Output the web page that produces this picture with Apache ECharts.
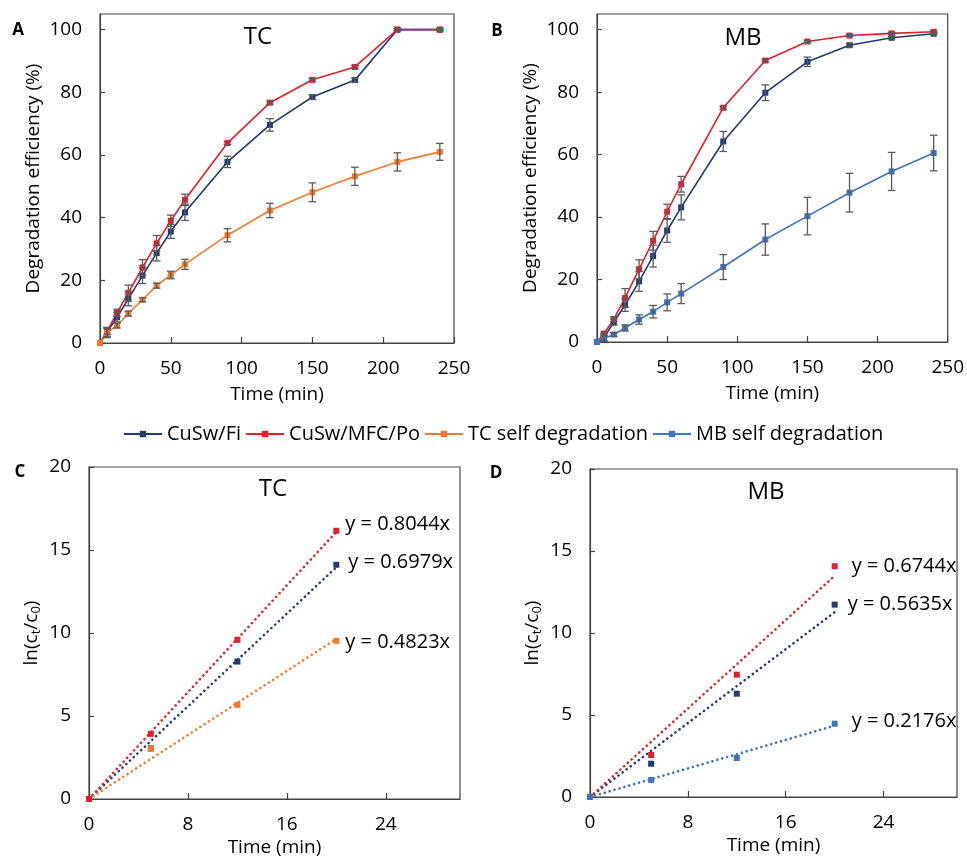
<!DOCTYPE html>
<html>
<head>
<meta charset="utf-8">
<script src="https://cdn.jsdelivr.net/npm/echarts@6/dist/echarts.min.js"></script>
<style>
html,body{margin:0;padding:0;background:#fff;}
#chart{width:967px;height:859px;}
</style>
</head>
<body>
<div id="chart"></div>
<script>
// ---------- data ----------
var timeAB = [0, 5, 12, 20, 30, 40, 50, 60, 90, 120, 150, 180, 210, 240];

var tcFi      = [0, 3.5, 8.2, 14.1, 21.5, 28.7, 35.6, 41.7, 57.8, 69.6, 78.5, 83.9, 100, 100];
var tcFiErr   = [0, 1.5, 1.5, 2.2, 2.5, 2.5, 2.2, 2.6, 1.8, 2.0, 0.8, 0.6, 0.3, 0.3];
var tcPo      = [0, 3.8, 9.6, 16.0, 24.1, 31.8, 39.0, 45.7, 63.8, 76.7, 84.0, 88.1, 100, 100];
var tcPoErr   = [0, 1.0, 1.2, 2.5, 2.5, 2.5, 1.8, 1.8, 0.5, 0.5, 0.4, 0.5, 0.3, 0.3];
var tcSelf    = [0, 3.2, 5.6, 9.4, 13.8, 18.3, 21.7, 25.1, 34.4, 42.3, 48.1, 53.2, 57.8, 61.0];
var tcSelfErr = [0, 1.5, 0.8, 0.8, 0.6, 0.8, 1.2, 1.6, 2.1, 2.3, 3.0, 2.9, 2.9, 2.7];

var mbFi      = [0, 1.4, 6.4, 11.8, 19.4, 27.5, 35.7, 43.1, 64.2, 79.8, 89.7, 95.0, 97.4, 98.7];
var mbFiErr   = [0, 1.2, 1.0, 2.0, 3.2, 3.5, 3.8, 4.0, 3.2, 2.5, 1.5, 0.6, 0.4, 0.3];
var mbPo      = [0, 2.7, 7.3, 14.1, 23.3, 32.4, 41.7, 50.5, 75.0, 90.1, 96.2, 98.1, 98.8, 99.3];
var mbPoErr   = [0, 0.5, 0.8, 3.0, 3.0, 3.0, 2.4, 2.5, 0.5, 0.4, 0.3, 0.3, 0.3, 0.3];
var mbSelf    = [0, 1.1, 2.4, 4.5, 7.2, 9.7, 12.7, 15.5, 24.0, 32.8, 40.3, 47.8, 54.6, 60.5];
var mbSelfErr = [0, 0.8, 0.6, 1.0, 1.5, 2.0, 2.7, 3.2, 4.0, 5.0, 6.0, 6.2, 6.1, 5.7];

var timeCD  = [0, 5, 12, 20];
var kTcFi   = [0, 3.05, 8.28, 14.11];
var kTcPo   = [0, 3.92, 9.59, 16.16];
var kTcSelf = [0, 3.02, 5.67, 9.53];
var kMbFi   = [0, 2.03, 6.30, 11.73];
var kMbPo   = [0, 2.56, 7.46, 14.07];
var kMbSelf = [0, 1.04, 2.38, 4.47];

var slopesTC = [0.6979, 0.8044, 0.4823]; // Fi, Po, self
var slopesMB = [0.5635, 0.6744, 0.2176];

var legendNames = ['CuSw/Fi', 'CuSw/MFC/Po', 'TC self degradation', 'MB self degradation'];

// ---------- style ----------
var C_NAVY = '#203a72', C_RED = '#e2202a', C_ORANGE = '#f47a2a', C_BLUE = '#3f72c0';
var FONT = 'Open Sans';
var ERR_COLOR = '#5a5a5a';
var TXT = '#000';

function pairs(xs, ys) { return xs.map(function (x, i) { return [x, ys[i]]; }); }
function triples(xs, ys, es) { return xs.map(function (x, i) { return [x, ys[i], es[i]]; }); }

function lineSeries(name, idx, ys, color) {
  return {
    name: name, type: 'line', xAxisIndex: idx, yAxisIndex: idx,
    data: pairs(timeAB, ys), symbol: 'rect', symbolSize: 6,
    lineStyle: { color: color, width: 1.6 }, itemStyle: { color: color },
    z: 3, animation: false
  };
}
function errSeries(idx, ys, es) {
  return {
    type: 'custom', xAxisIndex: idx, yAxisIndex: idx,
    data: triples(timeAB, ys, es), z: 4, silent: true, animation: false,
    renderItem: function (params, api) {
      var x = api.value(0), y = api.value(1), e = api.value(2);
      if (!e) return;
      var top = api.coord([x, y + e]), bot = api.coord([x, y - e]);
      var w = 3.8, st = { stroke: ERR_COLOR, lineWidth: 1.3 };
      return { type: 'group', children: [
        { type: 'line', shape: { x1: top[0], y1: top[1], x2: bot[0], y2: bot[1] }, style: st },
        { type: 'line', shape: { x1: top[0] - w, y1: top[1], x2: top[0] + w, y2: top[1] }, style: st },
        { type: 'line', shape: { x1: bot[0] - w, y1: bot[1], x2: bot[0] + w, y2: bot[1] }, style: st }
      ]};
    }
  };
}
function scatterSeries(name, idx, ys, color, eq, dist, dy) {
  var last = ys.length - 1;
  var d = pairs(timeCD, ys).map(function (p, i) {
    var item = { value: p };
    if (i === last) {
      item.label = { show: true, position: 'right', distance: dist, offset: [0, dy],
        formatter: eq, color: TXT, fontFamily: FONT, fontSize: 20 };
    }
    return item;
  });
  return {
    name: name, type: 'scatter', xAxisIndex: idx, yAxisIndex: idx,
    data: d, symbol: 'rect', symbolSize: 6, itemStyle: { color: color, opacity: 1 },
    z: 3, animation: false
  };
}
function trendSeries(idx, slope, color) {
  var xEnd = timeCD[timeCD.length - 1];
  return {
    type: 'line', xAxisIndex: idx, yAxisIndex: idx,
    data: [[0, 0], [xEnd, slope * xEnd]], symbol: 'none',
    lineStyle: { color: color, width: 2.6, type: [0.1, 5], cap: 'round' },
    z: 2, silent: true, animation: false
  };
}

function xAxisCfg(idx, max, interval, name, gap) {
  return {
    type: 'value', gridIndex: idx, min: 0, max: max, interval: interval,
    name: name, nameLocation: 'middle', nameGap: gap,
    nameTextStyle: { fontFamily: FONT, fontSize: 19, color: TXT },
    axisLine: { show: true, lineStyle: { color: '#444', width: 1.2 } },
    axisTick: { show: true, inside: true, length: 6, lineStyle: { color: '#444', width: 1.2 } },
    axisLabel: { fontFamily: FONT, fontSize: 19, color: TXT, margin: 16, showMaxLabel: max !== 30 },
    splitLine: { show: false }
  };
}
function yAxisCfg(idx, max, interval, name, gap, rich) {
  var a = {
    type: 'value', gridIndex: idx, min: 0, max: max, interval: interval,
    name: name, nameLocation: 'middle', nameGap: gap, nameRotate: 90,
    nameTextStyle: { fontFamily: FONT, fontSize: 19, color: TXT },
    axisLine: { show: true, lineStyle: { color: '#444', width: 1.2 } },
    axisTick: { show: true, inside: true, length: 5, lineStyle: { color: '#444', width: 1.2 } },
    axisLabel: { fontFamily: FONT, fontSize: 19, color: TXT, margin: 18, showMaxLabel: max !== 105 },
    splitLine: { show: false }
  };
  if (rich) a.nameTextStyle.rich = rich;
  return a;
}

var subRich = {
  b: { fontFamily: FONT, fontSize: 19, color: TXT },
  s: { fontFamily: FONT, fontSize: 13, color: TXT, padding: [9, 0, 0, 0] }
};

var grids = [
  { left: 100, top: 14, width: 354, height: 329 },
  { left: 597, top: 14, width: 354, height: 328 },
  { left: 89, top: 467, width: 371, height: 332 },
  { left: 590, top: 469, width: 367, height: 328 }
].map(function (g) {
  g.show = true; g.borderColor = '#444'; g.borderWidth = 1.2; g.backgroundColor = 'transparent';
  return g;
});

var texts = [
  ['A', 18, 30, true, 17], ['B', 497, 31, true, 17], ['C', 20, 472, true, 17], ['D', 496, 473, true, 17],
  ['TC', 258, 37, false, 24], ['MB', 743, 38, false, 24], ['TC', 273, 489, false, 24], ['MB', 766, 492, false, 24]
];

var option = {
  backgroundColor: '#fff',
  animation: false,
  grid: grids,
  legend: {
    data: legendNames, left: 118, top: 419, itemWidth: 38, itemHeight: 8, itemGap: 4,
    textStyle: { fontFamily: FONT, fontSize: 20, color: TXT },
    selectedMode: false
  },
  graphic: texts.map(function (t) {
    return { type: 'text', x: t[1], y: t[2], style: { text: t[0], x: 0, y: 0,
      fill: TXT, font: (t[3] ? 'bold ' : '') + t[4] + 'px "' + FONT + '"',
      textAlign: 'center', textVerticalAlign: 'middle' } };
  }),
  xAxis: [
    xAxisCfg(0, 250, 50, 'Time (min)', 42),
    xAxisCfg(1, 250, 50, 'Time (min)', 42),
    xAxisCfg(2, 30, 8, 'Time (min)', 39),
    xAxisCfg(3, 30, 8, 'Time (min)', 39)
  ],
  yAxis: [
    yAxisCfg(0, 105, 20, 'Degradation efficiency (%)', 57),
    yAxisCfg(1, 105, 20, 'Degradation efficiency (%)', 57),
    yAxisCfg(2, 20, 5, '{b|ln(c}{s|t}{b|/c}{s|0}{b|)}', 46, subRich),
    yAxisCfg(3, 20, 5, '{b|ln(c}{s|t}{b|/c}{s|0}{b|)}', 46, subRich)
  ],
  series: [
    lineSeries('CuSw/Fi', 0, tcFi, C_NAVY),
    lineSeries('CuSw/MFC/Po', 0, tcPo, C_RED),
    lineSeries('TC self degradation', 0, tcSelf, C_ORANGE),
    errSeries(0, tcFi, tcFiErr), errSeries(0, tcPo, tcPoErr), errSeries(0, tcSelf, tcSelfErr),

    lineSeries('CuSw/Fi', 1, mbFi, C_NAVY),
    lineSeries('CuSw/MFC/Po', 1, mbPo, C_RED),
    lineSeries('MB self degradation', 1, mbSelf, C_BLUE),
    errSeries(1, mbFi, mbFiErr), errSeries(1, mbPo, mbPoErr), errSeries(1, mbSelf, mbSelfErr),

    trendSeries(2, slopesTC[0], C_NAVY), trendSeries(2, slopesTC[1], C_RED), trendSeries(2, slopesTC[2], C_ORANGE),
    scatterSeries('kTcFi', 2, kTcFi, C_NAVY, 'y = ' + slopesTC[0] + 'x', 9, -2),
    scatterSeries('kTcSelf', 2, kTcSelf, C_ORANGE, 'y = ' + slopesTC[2] + 'x', 6, 1),
    scatterSeries('kTcPo', 2, kTcPo, C_RED, 'y = ' + slopesTC[1] + 'x', 6, -6),

    trendSeries(3, slopesMB[0], C_NAVY), trendSeries(3, slopesMB[1], C_RED), trendSeries(3, slopesMB[2], C_BLUE),
    scatterSeries('kMbFi', 3, kMbFi, C_NAVY, 'y = ' + slopesMB[0] + 'x', 10, 0),
    scatterSeries('kMbPo', 3, kMbPo, C_RED, 'y = ' + slopesMB[1] + 'x', 14, 0),
    scatterSeries('kMbSelf', 3, kMbSelf, C_BLUE, 'y = ' + slopesMB[2] + 'x', 14, -2)
  ]
};

var chart = echarts.init(document.getElementById('chart'), null, { renderer: 'canvas' });
chart.setOption(option);
</script>
</body>
</html>
